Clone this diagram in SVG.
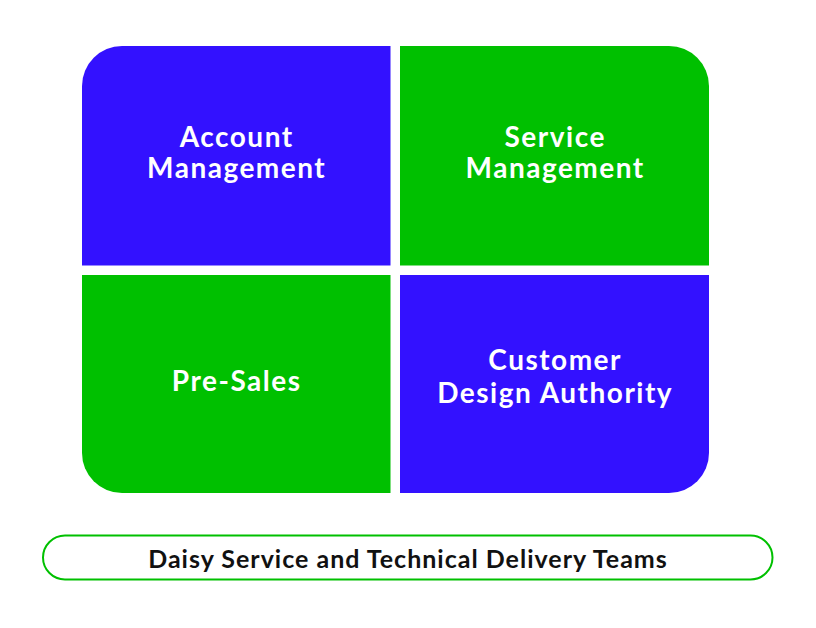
<svg xmlns="http://www.w3.org/2000/svg" width="816" height="628" viewBox="0 0 816 628">
<style>
.blue{fill:#3311FF}
.green{fill:#00C000}
.lbl{font-family:Lato,"Noto Sans",sans-serif;font-weight:bold;font-size:28px;letter-spacing:1.5px;fill:#FFFFFF;text-anchor:middle}
.foot{font-family:Lato,"Noto Sans",sans-serif;font-weight:bold;font-size:25px;letter-spacing:1px;fill:#111111;text-anchor:middle}
</style>
<rect width="816" height="628" fill="#FFFFFF"/>
<g id="account-management">
<path class="blue" d="M82,86 A40,40 0 0 1 122,46 H390.5 V265.5 H82 Z"/>
<text class="lbl" x="236.7" y="147">Account</text>
<text class="lbl" x="236.7" y="178">Management</text>
</g>
<g id="service-management">
<path class="green" d="M400,46 H669 A40,40 0 0 1 709,86 V265.5 H400 Z"/>
<text class="lbl" x="555.2" y="147">Service</text>
<text class="lbl" x="555.2" y="178">Management</text>
</g>
<g id="pre-sales">
<path class="green" d="M82,275 H390.5 V493 H122 A40,40 0 0 1 82,453 Z"/>
<text class="lbl" x="236.7" y="391">Pre-Sales</text>
</g>
<g id="customer-design-authority">
<path class="blue" d="M400,275 H709 V453 A40,40 0 0 1 669,493 H400 Z"/>
<text class="lbl" x="555.2" y="370">Customer</text>
<text class="lbl" x="555.2" y="403">Design Authority</text>
</g>
<g id="delivery-teams">
<rect x="43" y="535.5" width="729.5" height="44" rx="22" ry="22" fill="#FFFFFF" stroke="#00C000" stroke-width="2"/>
<text class="foot" x="408" y="567.5">Daisy Service and Technical Delivery Teams</text>
</g>
<g id="connectors"></g>
</svg>
